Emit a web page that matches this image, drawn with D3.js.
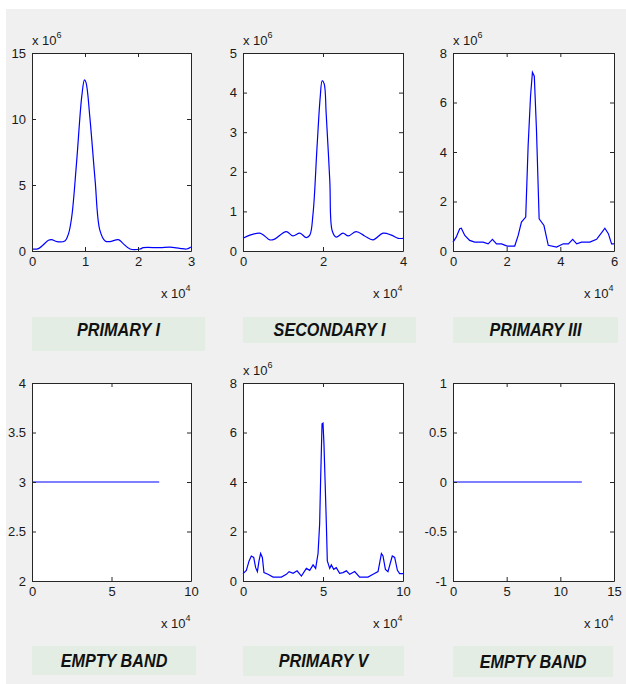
<!DOCTYPE html>
<html>
<head>
<meta charset="utf-8">
<script src="https://cdn.jsdelivr.net/npm/d3@7"></script>
<style>
  body { margin: 0; background: #fff; }
  text { font-family: "Liberation Sans", Arial, sans-serif; }
</style>
</head>
<body>
<div class="chart"></div>
<script>
// values are in axis units: x in 10^4, y in 10^6 (where the panel shows an exponent)
var titles = ["PRIMARY I", "SECONDARY I", "PRIMARY III", "EMPTY BAND", "PRIMARY V", "EMPTY BAND"];

var p1X = [0, 0.12, 0.31, 0.37, 0.47, 0.62, 0.69, 0.75, 0.84, 0.94, 0.99, 1.02, 1.09, 1.19, 1.28, 1.38, 1.47, 1.63, 1.72, 1.85, 2.04, 2.1, 2.42, 2.6, 2.79, 2.92, 3.0];
var p1Y = [0.15, 0.18, 0.81, 0.86, 0.71, 0.76, 1.32, 2.6, 6.66, 11.75, 12.97, 12.76, 10.2, 5.39, 1.58, 0.76, 0.71, 0.86, 0.56, 0.15, 0.15, 0.25, 0.25, 0.3, 0.2, 0.15, 0.3];

var p2X = [0, 0.17, 0.42, 0.54, 0.67, 0.79, 1.08, 1.25, 1.42, 1.58, 1.67, 1.75, 1.85, 1.93, 1.98, 2.03, 2.08, 2.17, 2.23, 2.33, 2.5, 2.63, 2.83, 3.04, 3.25, 3.5, 3.71, 3.88, 4.0];
var p2Y = [0.32, 0.40, 0.45, 0.38, 0.28, 0.30, 0.49, 0.38, 0.45, 0.34, 0.40, 0.93, 2.61, 3.88, 4.30, 4.22, 3.46, 1.77, 0.51, 0.35, 0.45, 0.38, 0.49, 0.38, 0.28, 0.45, 0.40, 0.32, 0.32];

var p3X = [0, 0.12, 0.25, 0.31, 0.44, 0.62, 0.81, 1.12, 1.31, 1.47, 1.62, 1.81, 2.02, 2.30, 2.43, 2.55, 2.71, 2.80, 2.89, 2.96, 3.03, 3.11, 3.21, 3.39, 3.55, 3.86, 4.11, 4.30, 4.46, 4.61, 4.79, 5.10, 5.35, 5.54, 5.66, 5.79, 5.91, 6.0];
var p3Y = [0.36, 0.56, 0.90, 0.92, 0.63, 0.43, 0.36, 0.36, 0.29, 0.47, 0.29, 0.29, 0.20, 0.20, 0.63, 1.17, 1.37, 4.25, 6.26, 7.22, 7.06, 4.92, 1.30, 1.03, 0.23, 0.16, 0.29, 0.29, 0.47, 0.29, 0.36, 0.36, 0.47, 0.74, 0.92, 0.70, 0.29, 0.29];

var p4X = [0, 8];
var p4Y = [3, 3];

var p5X = [0, 0.21, 0.38, 0.52, 0.67, 0.79, 0.90, 1.0, 1.10, 1.21, 1.31, 1.56, 1.88, 2.40, 2.71, 2.88, 3.13, 3.38, 3.65, 3.96, 4.17, 4.38, 4.54, 4.69, 4.79, 4.85, 4.94, 5.0, 5.06, 5.13, 5.21, 5.27, 5.42, 5.52, 5.67, 5.83, 6.04, 6.25, 6.46, 6.67, 6.98, 7.29, 7.81, 8.13, 8.44, 8.65, 8.75, 8.90, 9.06, 9.33, 9.48, 9.65, 9.79, 10.0];
var p5Y = [0.30, 0.43, 0.81, 1.01, 0.95, 0.54, 0.38, 0.81, 1.11, 0.95, 0.34, 0.27, 0.16, 0.16, 0.27, 0.38, 0.31, 0.41, 0.20, 0.51, 0.43, 0.65, 0.51, 1.11, 2.30, 4.05, 6.35, 6.38, 5.54, 4.05, 2.30, 0.81, 0.51, 0.65, 0.47, 0.54, 0.31, 0.34, 0.41, 0.27, 0.38, 0.16, 0.16, 0.27, 0.38, 1.11, 1.01, 0.47, 0.38, 1.01, 0.95, 0.43, 0.30, 0.30];

var p6X = [0, 12];
var p6Y = [0, 0];

// tick labels per panel
var xTicks = [[0, 1, 2, 3], [0, 2, 4], [0, 2, 4, 6], [0, 5, 10], [0, 5, 10], [0, 5, 10, 15]];
var yTicks = [[0, 5, 10, 15], [0, 1, 2, 3, 4, 5], [0, 2, 4, 6, 8], [2, 2.5, 3, 3.5, 4], [0, 2, 4, 6, 8], [-1, -0.5, 0, 0.5, 1]];
var yExp = ["6", "6", "6", null, "6", null];
var xExp = ["4", "4", "4", "4", "4", "4"];

var seriesX = [p1X, p2X, p3X, p4X, p5X, p6X];
var seriesY = [p1Y, p2Y, p3Y, p4Y, p5Y, p6Y];

var svgWidth = 626;
var svgHeight = 684;

var colLeft = [32, 243, 453];
var colRight = [191, 403, 614];
var rowTop = [53, 383];
var rowBottom = [251, 581];

// title boxes [x, y, w, h]
var boxes = [[32, 317, 173, 34], [243, 317, 173, 26], [453, 317, 165, 26],
             [32, 646, 164, 29], [243, 646, 161, 30], [453, 646, 160, 31]];

var svg = d3.select(".chart")
  .append("svg")
  .attr("width", svgWidth)
  .attr("height", svgHeight);

// figure background
svg.append("rect")
  .attr("x", 6)
  .attr("y", 9)
  .attr("width", svgWidth - 6)
  .attr("height", svgHeight - 9)
  .attr("fill", "#f0f0f0");

titles.forEach(function(title, i) {
  var col = i % 3;
  var row = Math.floor(i / 3);
  var left = colLeft[col], right = colRight[col];
  var top = rowTop[row], bottom = rowBottom[row];
  var xt = xTicks[i], yt = yTicks[i];

  var x = d3.scaleLinear()
    .domain([xt[0], xt[xt.length - 1]])
    .range([left, right]);
  var y = d3.scaleLinear()
    .domain([yt[0], yt[yt.length - 1]])
    .range([bottom, top]);

  var g = svg.append("g");

  g.append("rect")
    .attr("x", left)
    .attr("y", top)
    .attr("width", right - left)
    .attr("height", bottom - top)
    .attr("fill", "#fff");

  // data line
  var pts = seriesX[i].map(function(v, k) { return [v, seriesY[i][k]]; });
  var line = d3.line()
    .x(d => x(d[0]))
    .y(d => y(d[1]))
    .curve(i < 2 ? d3.curveCatmullRom : d3.curveLinear);

  g.append("path")
    .datum(pts)
    .attr("d", line)
    .attr("fill", "none")
    .attr("stroke", "#0000ff")
    .attr("stroke-width", 1.2);

  // axes, ticks pointing inward on all four sides (plain hyphen for negatives)
  var fmt = d => String(d);
  var axes = [
    [d3.axisBottom(x).tickValues(xt).tickFormat(fmt), `translate(0,${bottom})`],
    [d3.axisLeft(y).tickValues(yt).tickFormat(fmt), `translate(${left},0)`],
    [d3.axisTop(x).tickValues(xt).tickFormat(""), `translate(0,${top})`],
    [d3.axisRight(y).tickValues(yt).tickFormat(""), `translate(${right},0)`]
  ];
  axes.forEach(function(a) {
    g.append("g")
      .attr("transform", a[1])
      .style("color", "#262626")
      .call(a[0].tickSizeInner(-4).tickSizeOuter(0).tickPadding(6))
      .call(s => s.selectAll("text")
        .attr("fill", "#1a1a1a")
        .style("font-size", "13px")
        .style("font-family", "'Liberation Sans', Arial, sans-serif"));
  });

  // exponent labels
  if (yExp[i]) {
    var ye = g.append("text")
      .attr("x", left)
      .attr("y", top - 8)
      .attr("fill", "#1a1a1a")
      .style("font-size", "13px");
    ye.append("tspan").text("x 10");
    ye.append("tspan").attr("dy", -7).style("font-size", "9px").text(yExp[i]);
  }
  var xe = g.append("text")
    .attr("x", right - 30)
    .attr("y", bottom + 47)
    .attr("fill", "#1a1a1a")
    .style("font-size", "13px");
  xe.append("tspan").text("x 10");
  xe.append("tspan").attr("dy", -7).style("font-size", "9px").text(xExp[i]);

  // title box
  var b = boxes[i];
  g.append("rect")
    .attr("x", b[0])
    .attr("y", b[1])
    .attr("width", b[2])
    .attr("height", b[3])
    .attr("fill", "#e3ede4");

  var cx = b[0] + b[2] / 2;
  var cy = b[1] + (i < 3 ? 13 : b[3] / 2);
  g.append("text")
    .attr("transform", `translate(${cx},${cy}) scale(0.9,1)`)
    .attr("text-anchor", "middle")
    .attr("dy", "0.36em")
    .attr("fill", "#111")
    .style("font-size", "18px")
    .style("font-weight", "bold")
    .style("font-style", "italic")
    .text(title);
});
</script>
</body>
</html>
